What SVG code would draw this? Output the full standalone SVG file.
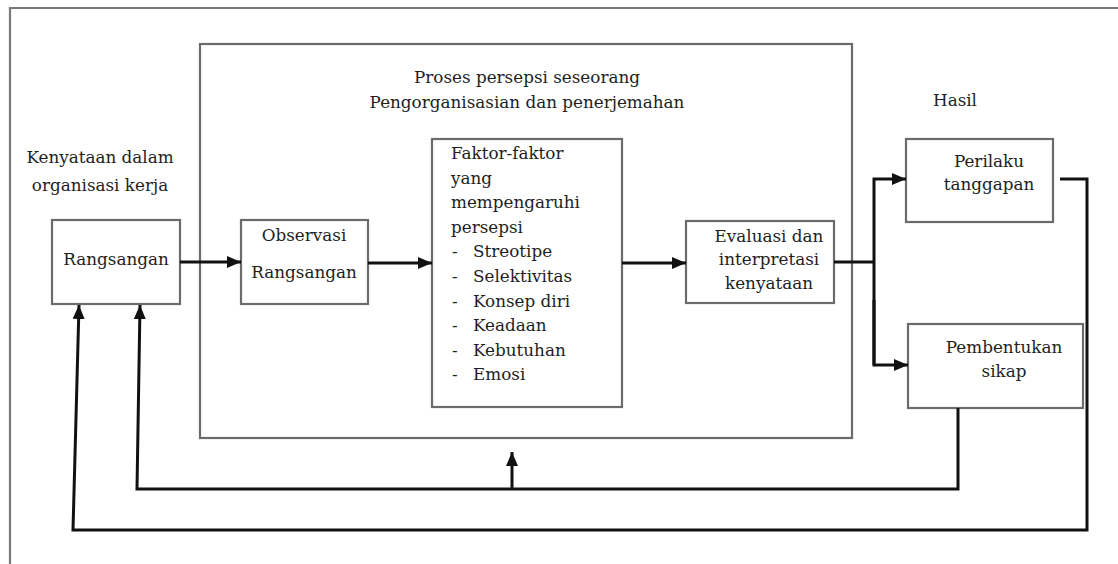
<svg xmlns="http://www.w3.org/2000/svg" width="1118" height="564" viewBox="0 0 1118 564">
<style>
.box{fill:#fff;stroke:#6b6b6b;stroke-width:2.2}
.frame{fill:none;stroke:#7a7a7a;stroke-width:2.2}
.t{font-family:"DejaVu Serif","Liberation Serif",serif;font-size:16.8px;fill:#1e1e1e}
.c{text-anchor:middle}
.con{fill:none;stroke:#111;stroke-width:3}
</style>
<defs>
<marker id="ah" markerUnits="userSpaceOnUse" markerWidth="16" markerHeight="14" refX="14" refY="7" orient="auto">
<path d="M0,1 L14,7 L0,13 Z" fill="#111"/>
</marker>
</defs>
<rect width="1118" height="564" fill="#fff"/>
<g id="frame">
<path class="frame" d="M10,564 L10,8 L1118,8"/>
</g>
<g id="process-box">
<rect class="box" x="200" y="44" width="652" height="394" fill="none"/>
<text class="t c" x="527" y="83">Proses persepsi seseorang</text>
<text class="t c" x="527" y="108">Pengorganisasian dan penerjemahan</text>
</g>
<g id="label-kenyataan">
<text class="t c" x="100" y="163">Kenyataan dalam</text>
<text class="t c" x="100" y="191">organisasi kerja</text>
</g>
<g id="label-hasil">
<text class="t" x="933" y="106">Hasil</text>
</g>
<g id="rangsangan">
<rect class="box" x="52" y="220" width="128" height="84"/>
<text class="t c" x="116" y="265">Rangsangan</text>
</g>
<g id="observasi">
<rect class="box" x="241" y="220" width="127" height="84"/>
<text class="t c" x="304" y="241">Observasi</text>
<text class="t c" x="304" y="278">Rangsangan</text>
</g>
<g id="faktor">
<rect class="box" x="432" y="139" width="190" height="268"/>
<text class="t" x="451" y="159">Faktor-faktor</text>
<text class="t" x="451" y="184">yang</text>
<text class="t" x="451" y="208">mempengaruhi</text>
<text class="t" x="451" y="233">persepsi</text>
<text class="t" x="452" y="257">-</text><text class="t" x="473" y="257">Streotipe</text>
<text class="t" x="452" y="282">-</text><text class="t" x="473" y="282">Selektivitas</text>
<text class="t" x="452" y="307">-</text><text class="t" x="473" y="307">Konsep diri</text>
<text class="t" x="452" y="331">-</text><text class="t" x="473" y="331">Keadaan</text>
<text class="t" x="452" y="356">-</text><text class="t" x="473" y="356">Kebutuhan</text>
<text class="t" x="452" y="380">-</text><text class="t" x="473" y="380">Emosi</text>
</g>
<g id="evaluasi">
<rect class="box" x="686" y="221" width="148" height="82"/>
<text class="t c" x="769" y="242">Evaluasi dan</text>
<text class="t c" x="769" y="265">interpretasi</text>
<text class="t c" x="769" y="289">kenyataan</text>
</g>
<g id="perilaku">
<rect class="box" x="906" y="139" width="147" height="83"/>
<text class="t c" x="989" y="167">Perilaku</text>
<text class="t c" x="989" y="190">tanggapan</text>
</g>
<g id="pembentukan">
<rect class="box" x="908" y="324" width="175" height="84"/>
<text class="t c" x="1004" y="353">Pembentukan</text>
<text class="t c" x="1004" y="377">sikap</text>
</g>
<g id="connectors">
<path class="con" d="M180,262 L241,262" marker-end="url(#ah)"/>
<path class="con" d="M368,263 L432,263" marker-end="url(#ah)"/>
<path class="con" d="M622,263 L686,263" marker-end="url(#ah)"/>
<path class="con" d="M834,262 L874,262"/>
<path class="con" d="M874,365 L874,179 L906,179" marker-end="url(#ah)"/>
<path class="con" d="M874,300 L874,365 L908,365" marker-end="url(#ah)"/>
<path class="con" d="M1060,179 L1087,179 L1087,530 L73,530 L79,305" marker-end="url(#ah)"/>
<path class="con" d="M958,408 L958,489 L137,489 L140,305" marker-end="url(#ah)"/>
<path class="con" d="M512,489 L512,452" marker-end="url(#ah)"/>
</g>
</svg>
